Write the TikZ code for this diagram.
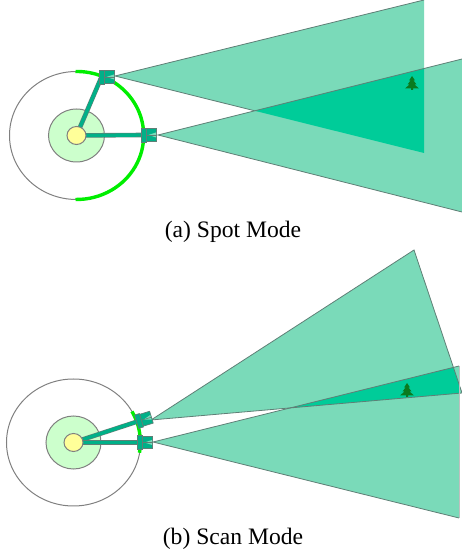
\documentclass[tikz,border=0pt]{standalone}
\usepackage{fontspec}
\setmainfont{Liberation Serif}
\definecolor{beamteal}{HTML}{7ADAB9}
\definecolor{overlapteal}{HTML}{00CC99}
\definecolor{armteal}{HTML}{00B088}
\definecolor{edgegray}{HTML}{5F7F76}
\definecolor{ringgray}{HTML}{808080}
\definecolor{arcgreen}{HTML}{00EE00}
\definecolor{zonegreen}{HTML}{CCFFCC}
\definecolor{hubyellow}{HTML}{FFFF99}
\definecolor{treegreen}{HTML}{0A7A1E}
\tikzset{
	beam/.style={fill=beamteal, draw=none},
	beamedge/.style={draw=edgegray, line width=0.8pt},
	ring/.style={draw=ringgray, line width=1pt},
	scanarc/.style={draw=arcgreen, line width=3.4pt},
	arm/.style={draw=edgegray, line width=0.6pt, double=armteal, double distance=3.4pt},
	camera/.style={fill=armteal, draw=edgegray, line width=0.7pt},
	caption/.style={font=\fontsize{23.6}{26}\selectfont}
}
\begin{document}
\begin{tikzpicture}[x=1pt, y=1pt]
	\useasboundingbox (0,0) rectangle (462,556);
	% Named points
	\coordinate (hubA) at (76.5,420.5);
	\coordinate (camAa) at (101.5,479);
	\coordinate (camAb) at (143.5,421);
	\coordinate (hubB) at (73.5,113.5);
	\coordinate (camBa) at (139,135);
	\coordinate (camBb) at (139.5,113.5);
	% Spot mode beams
	\fill[beam] (115,480) -- (424,556) -- (424,403) -- cycle;
	\draw[beamedge] (424,556) -- (115,480) -- (424,403);
	\fill[beam] (158,421) -- (462,497) -- (462,344) -- cycle;
	\begin{scope}
		\clip (115,480) -- (424,556) -- (424,403) -- cycle;
		\fill[overlapteal] (158,421) -- (462,497) -- (462,344) -- cycle;
	\end{scope}
	\draw[beamedge] (462,497) -- (158,421) -- (462,344);
	% Scan mode beams
	\fill[beam] (151,136) -- (414,306) -- (462,163) -- cycle;
	\fill[beam] (153,114) -- (459,190) -- (459,38) -- cycle;
	\begin{scope}
		\clip (151,136) -- (414,306) -- (462,163) -- cycle;
		\fill[overlapteal] (153,114) -- (459,190) -- (459,38) -- cycle;
	\end{scope}
	\draw[beamedge] (462,163) -- (414,306) -- (151,136) -- cycle;
	\draw[beamedge] (459,190) -- (153,114) -- (459,38);
	\draw[draw=gray!50, line width=0.7pt] (459,190) -- (459,38);
	% Trees
	\foreach \tx/\ty in {412/466, 407/159}{
		\fill[treegreen, shift={(\tx,\ty)}] (0,14) -- (-3,9.5) -- (-1.5,9.5) -- (-4.5,5.5) -- (-2.5,5.5)
			-- (-7,1.5) -- (-1,1.5) -- (-1,0) -- (1,0) -- (1,1.5) -- (7,1.5)
			-- (2.5,5.5) -- (4.5,5.5) -- (1.5,9.5) -- (3,9.5) -- cycle;
	}
	% Spot mode rings
	\draw[ring] (hubA) ellipse [x radius=67, y radius=64];
	\draw[ring, fill=zonegreen] (hubA) ellipse [x radius=28, y radius=26.5];
	\draw[scanarc] (75.5,484.5) arc [start angle=91, end angle=-91, x radius=67, y radius=64];
	% Scan mode rings
	\draw[ring] (hubB) ellipse [x radius=67, y radius=63.5];
	\draw[ring, fill=zonegreen] (hubB) ellipse [x radius=27.5, y radius=26.5];
	\draw[scanarc] (132,144.5) arc [start angle=29, end angle=-9.5, x radius=67, y radius=63.5];
	% Arms
	\draw[arm] (hubA) -- (camAa);
	\draw[arm] (hubA) -- (camAb);
	\draw[arm] (hubB) -- (camBa);
	\draw[arm] (hubB) -- (camBb);
	% Hubs
	\draw[ring, fill=hubyellow] (hubA) ellipse [x radius=9.5, y radius=9];
	\draw[ring, fill=hubyellow] (hubB) ellipse [x radius=9.5, y radius=9];
	% Cameras
	\foreach \cam/\ang in {camAa/0, camAb/0, camBa/17, camBb/0}{
		\begin{scope}[shift={(\cam)}, rotate=\ang]
			\draw[camera] (2.5,-6.2) rectangle (13,6.2);
			\fill[beamteal] (5,0) -- (12.5,2.5) -- (12.5,-2.5) -- cycle;
			\draw[edgegray, line width=0.6pt] (2.5,0) -- (13,0);
			\draw[camera] (-2.5,-7) rectangle (2.5,7);
		\end{scope}
	}
	% Captions
	\node[caption] (capA) at (233,324.5) {(a) Spot Mode};
	\node[caption] (capB) at (233,17) {(b) Scan Mode};
\end{tikzpicture}
\end{document}
